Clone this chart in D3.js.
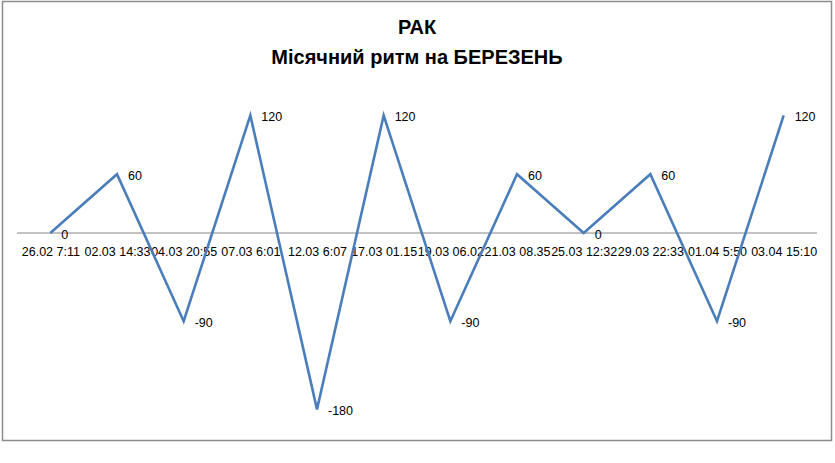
<!DOCTYPE html>
<html>
<head>
<meta charset="utf-8">
<script src="https://cdn.jsdelivr.net/npm/d3@7"></script>
<style>
  body { margin: 0; background: #fff; }
  text { font-family: "Liberation Sans", "DejaVu Sans", sans-serif; }
</style>
</head>
<body>
<svg id="chart" width="835" height="463"></svg>
<script>
var titleLines = ["РАК", "Місячний ритм на БЕРЕЗЕНЬ"];

var categories = [
	"26.02 7:11", "02.03 14:33", "04.03 20:55", "07.03 6:01",
	"12.03 6:07", "17.03 01.15", "19.03 06.02", "21.03 08.35",
	"25.03 12:32", "29.03 22:33", "01.04 5:50", "03.04 15:10"
];

var values = [0, 60, -90, 120, -180, 120, -90, 60, 0, 60, -90, 120];

var yDomain = [-180, 120];


function draw_chart() {
	var svg = d3.select("#chart");

	// outer frame, like the office chart border
	svg.append("rect")
		.attr("x", 2.5).attr("y", 1.5)
		.attr("width", 829).attr("height", 439)
		.attr("fill", "#fff")
		.attr("stroke", "#8c8c8c")
		.attr("stroke-width", 1.5);

	var title = svg.append("text")
		.attr("text-anchor", "middle")
		.attr("font-weight", "bold")
		.attr("font-size", 20)
		.attr("fill", "#000");
	title.selectAll("tspan")
		.data(titleLines)
		.enter().append("tspan")
		.attr("x", 417)
		.attr("y", function (d, i) { return 34 + i * 30; })
		.text(function (d) { return d; });

	var x = d3.scalePoint()
		.domain(categories)
		.range([17, 817])
		.padding(0.5);

	var y = d3.scaleLinear()
		.domain(yDomain)
		.range([409.4, 115.4]);

	// horizontal category axis sits at zero
	var xAxis = svg.append("g")
		.attr("transform", "translate(0," + y(0) + ")")
		.call(d3.axisBottom(x).tickSize(0).tickPadding(14));
	xAxis.select(".domain")
		.attr("d", "M17,0H817")
		.attr("stroke", "#868686");
	xAxis.selectAll("text")
		.attr("font-family", "Liberation Sans, sans-serif")
		.attr("font-size", 12.5)
		.attr("fill", "#000");

	var line = d3.line()
		.x(function (d, i) { return x(categories[i]); })
		.y(function (d) { return y(d); });

	svg.append("path")
		.datum(values)
		.attr("d", line)
		.attr("fill", "none")
		.attr("stroke", "#4a7ebb")
		.attr("stroke-width", 2.6)
		.attr("stroke-linejoin", "miter");

	svg.selectAll(".pt-label")
		.data(values)
		.enter().append("text")
		.attr("class", "pt-label")
		.attr("x", function (d, i) { return x(categories[i]) + 11; })
		.attr("y", function (d) { return y(d) + 6; })
		.attr("font-size", 12.5)
		.attr("fill", "#000")
		.text(function (d) { return d; });
}

draw_chart();
</script>
</body>
</html>
